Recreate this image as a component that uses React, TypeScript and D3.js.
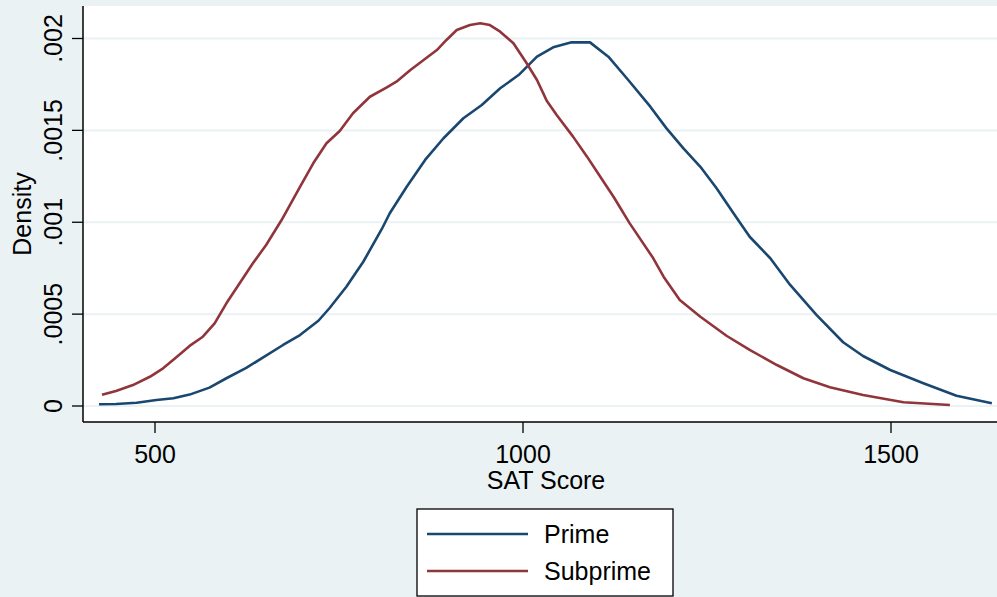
import * as d3 from "d3";
import { useRef, useEffect } from "react";

// SAT score / kernel density
const primeData: [number, number][] = [
  [424, 0.0000093], [447, 0.000011], [475, 0.000018], [502, 0.000033], [525, 0.000042],
  [547, 0.000062], [574, 0.0001], [597, 0.000151], [624, 0.000207], [647, 0.000265],
  [674, 0.000332], [697, 0.000386], [722, 0.000464], [737, 0.000532], [760, 0.000649],
  [783, 0.000785], [808, 0.000962], [819, 0.001049], [842, 0.001193], [867, 0.001339],
  [892, 0.001457], [919, 0.001566], [944, 0.001638], [969, 0.001729], [994, 0.001801],
  [1019, 0.001901], [1041, 0.001952], [1066, 0.001979], [1091, 0.001979], [1116, 0.001901],
  [1143, 0.001774], [1173, 0.001629], [1195, 0.001511], [1218, 0.001402], [1241, 0.001302],
  [1263, 0.001185], [1286, 0.001049], [1308, 0.000921], [1336, 0.000804], [1363, 0.000659],
  [1399, 0.000495], [1435, 0.000347], [1462, 0.000272], [1499, 0.000196], [1544, 0.000124],
  [1589, 0.000056], [1637, 0.0000147],
];

const subprimeData: [number, number][] = [
  [428, 0.0000615], [447, 0.000082], [470, 0.000114], [493, 0.000159], [511, 0.000205],
  [529, 0.000265], [547, 0.000327], [565, 0.000377], [581, 0.00045], [597, 0.000559],
  [615, 0.000668], [633, 0.000777], [651, 0.000876], [672, 0.001012], [697, 0.001193],
  [715, 0.001321], [733, 0.00143], [751, 0.001497], [769, 0.001593], [792, 0.001683],
  [815, 0.001734], [828, 0.001765], [847, 0.001829], [865, 0.001883], [883, 0.001937],
  [896, 0.001992], [910, 0.002046], [928, 0.002073], [942, 0.002083], [955, 0.002073],
  [969, 0.002037], [987, 0.001974], [1005, 0.001865], [1019, 0.001774], [1032, 0.001663],
  [1046, 0.001582], [1068, 0.001466], [1087, 0.001357], [1105, 0.001248], [1123, 0.001139],
  [1145, 0.000994], [1177, 0.000804], [1191, 0.000704], [1213, 0.000577], [1241, 0.000486],
  [1277, 0.000381], [1308, 0.000305], [1345, 0.000223], [1381, 0.000151], [1417, 0.000102],
  [1462, 0.00006], [1517, 0.00002], [1580, 0.0000054],
];

const xTicks = [500, 1000, 1500];
const yTicks = [0, 0.0005, 0.001, 0.0015, 0.002];
const yTickLabels = ["0", ".0005", ".001", ".0015", ".002"];

const series = [
  { name: "Prime", data: primeData, color: "#1a476f" },
  { name: "Subprime", data: subprimeData, color: "#90353b" },
];

const W = 997;
const H = 597;
const BG = "#eaf2f3";
const FONT = "'Liberation Sans', Arial, sans-serif";

const App = () => {
  const svgRef = useRef<SVGSVGElement>(null);

  useEffect(() => {
    const svg = d3.select(svgRef.current);
    svg.selectAll("*").remove();

    const left = 83, top = 6, right = W, bottom = 422;

    const x = d3.scaleLinear().domain([500, 1500]).range([155, 891]);
    const y = d3.scaleLinear().domain([0, 0.002]).range([406, 38.5]);

    svg.append("rect").attr("width", W).attr("height", H).attr("fill", BG);

    svg.append("clipPath").attr("id", "plot-clip")
      .append("rect")
      .attr("x", left).attr("y", top)
      .attr("width", right - left).attr("height", bottom - top);

    svg.append("rect")
      .attr("x", left).attr("y", top)
      .attr("width", right - left).attr("height", bottom - top)
      .attr("fill", "white");

    // grid
    svg.append("g")
      .selectAll("line")
      .data(yTicks)
      .enter()
      .append("line")
      .attr("x1", left).attr("x2", right)
      .attr("y1", d => y(d)).attr("y2", d => y(d))
      .attr("stroke", BG)
      .attr("stroke-width", 2);

    // curves
    const line = d3.line<[number, number]>()
      .x(d => x(d[0]))
      .y(d => y(d[1]));

    const plot = svg.append("g").attr("clip-path", "url(#plot-clip)");
    series.forEach(s => {
      plot.append("path")
        .datum(s.data)
        .attr("fill", "none")
        .attr("stroke", s.color)
        .attr("stroke-width", 2.6)
        .attr("stroke-linejoin", "round")
        .attr("d", line);
    });

    // axis lines
    svg.append("line")
      .attr("x1", left).attr("x2", left).attr("y1", top).attr("y2", bottom)
      .attr("stroke", "black").attr("stroke-width", 1.5);
    svg.append("line")
      .attr("x1", left).attr("x2", right).attr("y1", bottom).attr("y2", bottom)
      .attr("stroke", "black").attr("stroke-width", 1.5);

    // y ticks
    const yg = svg.append("g");
    yTicks.forEach((t, i) => {
      yg.append("line")
        .attr("x1", left - 11).attr("x2", left)
        .attr("y1", y(t)).attr("y2", y(t))
        .attr("stroke", "black").attr("stroke-width", 1.3);
      yg.append("text")
        .attr("transform", `translate(62, ${y(t)}) rotate(-90)`)
        .attr("text-anchor", "middle")
        .attr("font-family", FONT)
        .attr("font-size", 25)
        .text(yTickLabels[i]);
    });

    // x ticks
    const xg = svg.append("g");
    xTicks.forEach(t => {
      xg.append("line")
        .attr("x1", x(t)).attr("x2", x(t))
        .attr("y1", bottom).attr("y2", bottom + 11)
        .attr("stroke", "black").attr("stroke-width", 1.3);
      xg.append("text")
        .attr("x", x(t)).attr("y", 463)
        .attr("text-anchor", "middle")
        .attr("font-family", FONT)
        .attr("font-size", 25)
        .text(t);
    });

    // axis titles
    svg.append("text")
      .attr("x", 546).attr("y", 489)
      .attr("text-anchor", "middle")
      .attr("font-family", FONT)
      .attr("font-size", 25)
      .text("SAT Score");

    svg.append("text")
      .attr("transform", `translate(31, ${(top + bottom) / 2}) rotate(-90)`)
      .attr("text-anchor", "middle")
      .attr("font-family", FONT)
      .attr("font-size", 25)
      .text("Density");

    // legend
    const lg = svg.append("g");
    lg.append("rect")
      .attr("x", 417).attr("y", 509)
      .attr("width", 256).attr("height", 87)
      .attr("fill", "white")
      .attr("stroke", "black")
      .attr("stroke-width", 1.3);
    series.forEach((s, i) => {
      const ly = 534 + i * 37;
      lg.append("line")
        .attr("x1", 427).attr("x2", 528)
        .attr("y1", ly).attr("y2", ly)
        .attr("stroke", s.color)
        .attr("stroke-width", 2.6);
      lg.append("text")
        .attr("x", 544).attr("y", ly + 9)
        .attr("font-family", FONT)
        .attr("font-size", 25)
        .text(s.name);
    });
  }, []);

  return (
    <svg
      ref={svgRef}
      width={W}
      height={H}
      style={{ position: "absolute", left: 0, top: 0, display: "block" }}
    />
  );
};

export default App;
